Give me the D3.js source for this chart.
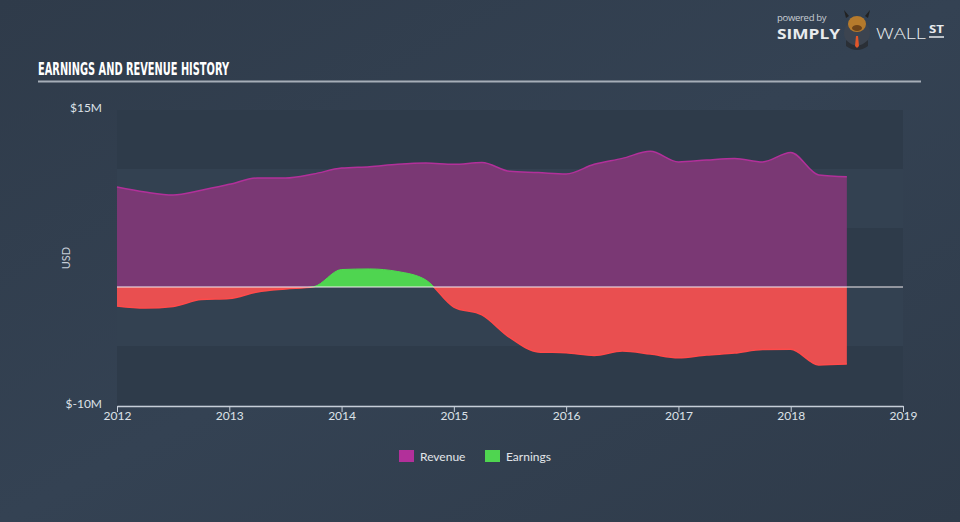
<!DOCTYPE html>
<html><head><meta charset="utf-8">
<script src="https://cdn.jsdelivr.net/npm/d3@7/dist/d3.min.js"></script>
<style>
html,body{margin:0;padding:0;background:#333f4f;}
svg{display:block;}
</style></head><body>
<svg id="c" width="960" height="522"></svg>
<script>
const dates = [2012.0,2012.25,2012.5,2012.75,2013.0,2013.25,2013.5,2013.75,2014.0,2014.25,2014.5,2014.75,2015.0,2015.25,2015.5,2015.75,2016.0,2016.25,2016.5,2016.75,2017.0,2017.25,2017.5,2017.75,2018.0,2018.25,2018.5];
const revenue = [8.47,8.05,7.8,8.2,8.7,9.24,9.24,9.58,10.08,10.2,10.4,10.5,10.4,10.55,9.8,9.7,9.58,10.4,10.9,11.5,10.6,10.76,10.9,10.6,11.4,9.5,9.35];
const earnings = [-1.6,-1.78,-1.65,-1.06,-0.97,-0.42,-0.17,0.02,1.48,1.53,1.31,0.6,-1.7,-2.37,-4.3,-5.5,-5.57,-5.8,-5.42,-5.68,-6.0,-5.76,-5.6,-5.3,-5.28,-6.6,-6.53];
const xTicks = [2012,2013,2014,2015,2016,2017,2018,2019];
const yTickLabels = ["$15M","$-10M"];
const yTickValues = [15,-10];
const legendItems = ["Revenue","Earnings"];

const svg = d3.select("#c");
const defs = svg.append("defs");
const bg = defs.append("linearGradient").attr("id","bg").attr("x1","0").attr("y1","0").attr("x2","1").attr("y2","1");
bg.append("stop").attr("offset","0").attr("stop-color","#2f3b4a");
bg.append("stop").attr("offset","0.5").attr("stop-color","#344253");
bg.append("stop").attr("offset","1").attr("stop-color","#2f3b4a");
svg.append("rect").attr("width",960).attr("height",522).attr("fill","url(#bg)");

const x = d3.scaleLinear().domain([2012,2019]).range([117,903]);
const y = d3.scaleLinear().domain([-10,15]).range([405,110]);

// bands
const bandEdges = [15,10,5,0,-5];
svg.append("g").selectAll("rect").data(bandEdges).join("rect")
  .attr("x",x(2012)).attr("width",x(2019)-x(2012))
  .attr("y",d=>y(d)).attr("height",d=>y(d-5)-y(d))
  .attr("fill",(d,i)=> i%2===0 ? "#2e3b4a" : "#334151");

const data = dates.map((d,i)=>({d, r:revenue[i], e:earnings[i]}));
const curve = d3.curveMonotoneX;

// revenue
svg.append("path").datum(data)
  .attr("d", d3.area().x(p=>x(p.d)).y0(y(0)).y1(p=>y(p.r)).curve(curve))
  .attr("fill","#7a3874");
svg.append("path").datum(data)
  .attr("d", d3.line().x(p=>x(p.d)).y(p=>y(p.r)).curve(curve))
  .attr("fill","none").attr("stroke","#b2309a").attr("stroke-width",1.5);

// earnings clips
defs.append("clipPath").attr("id","pos").append("rect")
  .attr("x",0).attr("y",0).attr("width",960).attr("height",y(0));
defs.append("clipPath").attr("id","neg").append("rect")
  .attr("x",0).attr("y",y(0)).attr("width",960).attr("height",522);
const eArea = d3.area().x(p=>x(p.d)).y0(y(0)).y1(p=>y(p.e)).curve(curve);
const eLine = d3.line().x(p=>x(p.d)).y(p=>y(p.e)).curve(curve);
svg.append("path").datum(data).attr("d",eArea).attr("fill","#4fd550").attr("clip-path","url(#pos)");
svg.append("path").datum(data).attr("d",eArea).attr("fill","#e94f50").attr("clip-path","url(#neg)");
svg.append("path").datum(data).attr("d",eLine).attr("fill","none").attr("stroke","#ff4a4a").attr("stroke-width",1.5).attr("clip-path","url(#neg)");
svg.append("path").datum(data).attr("d",eLine).attr("fill","none").attr("stroke","#4cdd4c").attr("stroke-width",1).attr("clip-path","url(#pos)");

// zero line
svg.append("line").attr("x1",x(2012)).attr("x2",x(2019)).attr("y1",y(0)).attr("y2",y(0))
  .attr("stroke","#f4eef0").attr("stroke-width",1);

// x axis
const xAxis = d3.axisBottom(x).tickValues(xTicks).tickFormat(d3.format("d")).tickSize(6).tickSizeOuter(0);
const gx = svg.append("g").attr("transform",`translate(0,${y(-10)+1})`).call(xAxis);
gx.select(".domain").attr("stroke","#c6ced8").attr("stroke-width",1.5);
gx.selectAll(".tick line").attr("stroke","#c6ced8").attr("stroke-width",1);
gx.selectAll(".tick text").attr("fill","#dde2e8").attr("font-family","Lato, 'Open Sans', sans-serif").attr("font-size",12).attr("dy","0.4em");

// y labels
svg.append("g").selectAll("text").data(yTickValues).join("text")
  .attr("x",102).attr("y",d=>y(d)+(d>0?-1:0)).attr("text-anchor","end").attr("dominant-baseline","middle")
  .attr("fill","#dde2e8").attr("font-family","Lato, 'Open Sans', sans-serif").attr("font-size",12)
  .text((d,i)=>yTickLabels[i]);
svg.append("text").attr("transform","translate(70,258) rotate(-90)").attr("text-anchor","middle")
  .attr("fill","#c6ced8").attr("font-family","Lato, 'Open Sans', sans-serif").attr("font-size",11).text("USD");

// title
svg.append("text").attr("x",38).attr("y",75).attr("fill","#ffffff")
  .attr("font-family","'Liberation Sans Narrow','DejaVu Sans Condensed',sans-serif").attr("font-weight","bold")
  .attr("font-size",17).attr("textLength",191).attr("lengthAdjust","spacingAndGlyphs")
  .text("EARNINGS AND REVENUE HISTORY");
svg.append("line").attr("x1",38).attr("x2",921).attr("y1",81.5).attr("y2",81.5).attr("stroke","#a6aeb8").attr("stroke-width",2);

// legend
const lg = svg.append("g");
const lcol = ["#b2309a","#4fd550"];
const lx = [399,485];
legendItems.forEach((t,i)=>{
  lg.append("rect").attr("x",lx[i]).attr("y",450).attr("width",15).attr("height",12).attr("fill",lcol[i]);
  lg.append("text").attr("x",lx[i]+21).attr("y",460.5).attr("fill","#e2e6ea")
    .attr("font-family","Lato, 'Open Sans', sans-serif").attr("font-size",12).text(t);
});

// logo
const lo = svg.append("g");
lo.append("text").attr("x",777).attr("y",21).attr("fill","#c9ced4").attr("font-family","'Open Sans',sans-serif").attr("font-size",9.5).attr("letter-spacing","-0.3").text("powered by");
lo.append("text").attr("x",777).attr("y",39).attr("fill","#e8ebee").attr("font-family","'Open Sans',sans-serif").attr("font-weight","bold").attr("font-size",15).attr("textLength",63).attr("lengthAdjust","spacingAndGlyphs").text("SIMPLY");
lo.append("circle").attr("cx",857).attr("cy",33).attr("r",13).attr("fill","#3c4450");
lo.append("path").attr("d","M846,40 Q857,51 868,40 L868,46 Q857,54 846,46 Z").attr("fill","#2a2f36");
lo.append("ellipse").attr("cx",857).attr("cy",24).attr("rx",9).attr("ry",8).attr("fill","#b57a2c");
lo.append("ellipse").attr("cx",857).attr("cy",28).attr("rx",5).attr("ry",3).attr("fill","#6e4318");
lo.append("path").attr("d","M846,18 L844,10 L849,16 Z M868,18 L870,10 L865,16 Z").attr("fill","#222");
lo.append("path").attr("d","M856,36 L858,36 L859,46 L857,48 L855,46 Z").attr("fill","#e2562a");
lo.append("text").attr("x",876).attr("y",39).attr("fill","#e8ebee").attr("font-family","'Open Sans',sans-serif").attr("font-size",15).attr("font-weight","300").attr("textLength",50).attr("lengthAdjust","spacingAndGlyphs").text("WALL");
lo.append("text").attr("x",929).attr("y",33).attr("fill","#e8ebee").attr("font-family","'Open Sans',sans-serif").attr("font-size",10).attr("font-weight","bold").attr("textLength",15).attr("lengthAdjust","spacingAndGlyphs").text("ST");
lo.append("line").attr("x1",929).attr("x2",944).attr("y1",37).attr("y2",37).attr("stroke","#e8ebee").attr("stroke-width",1.5);
</script>
</body></html>
